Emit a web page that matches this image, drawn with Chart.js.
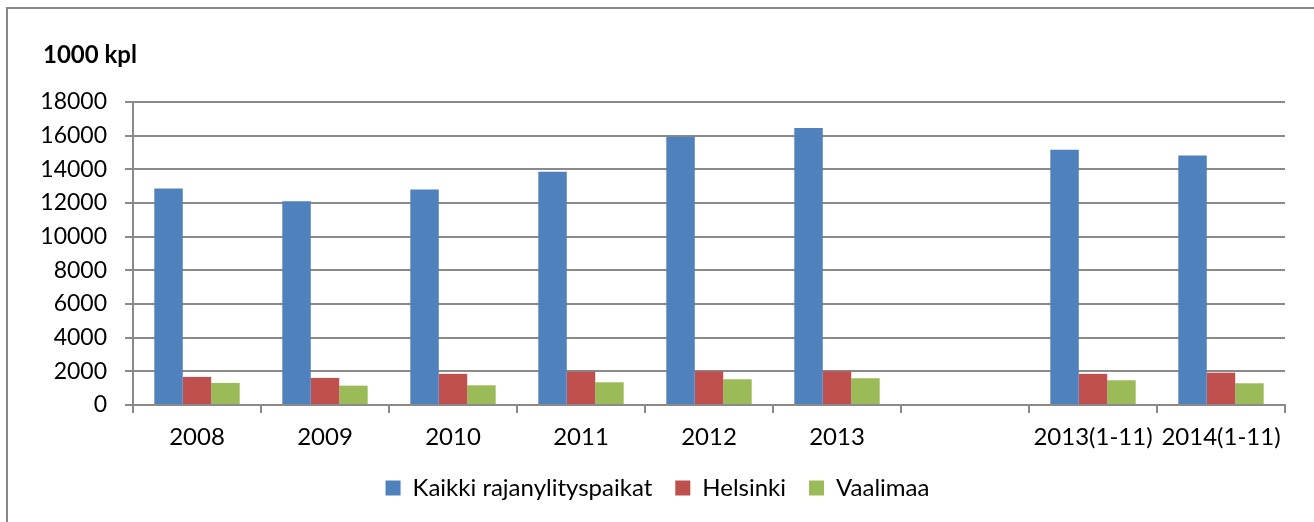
<!DOCTYPE html>
<html>
<head>
<meta charset="utf-8">
<script src="https://cdn.jsdelivr.net/npm/chart.js@4"></script>
<style>
  html, body { margin: 0; padding: 0; background: #fff; }
  #wrap { width: 1314px; height: 522px; }
</style>
</head>
<body>
<div id="wrap"><canvas id="crossingsChart" width="1314" height="522"></canvas></div>
<script>
const years = ["2008", "2009", "2010", "2011", "2012", "2013", "", "2013(1-11)", "2014(1-11)"];
const kaikki = [12860, 12100, 12800, 13850, 15930, 16450, null, 15160, 14820];
const helsinki = [1670, 1610, 1850, 1980, 2000, 2000, null, 1850, 1920];
const vaalimaa = [1310, 1150, 1170, 1350, 1530, 1590, null, 1470, 1290];
const unitLabel = "1000 kpl";

const gridGray = "#8a8a8a";
const font = "Lato, 'Open Sans', sans-serif";

// outer frame (only top & left edge visible) and the unit label
const framePlugin = {
  id: "frame",
  beforeDraw(chart) {
    const c = chart.ctx;
    c.save();
    c.fillStyle = "#fff";
    c.fillRect(0, 0, chart.width, chart.height);
    c.strokeStyle = "#888";
    c.lineWidth = 2;
    c.beginPath();
    c.moveTo(7, chart.height);
    c.lineTo(7, 8);
    c.lineTo(chart.width, 8);
    c.stroke();
    c.fillStyle = "#000";
    c.font = "bold 24px " + font;
    c.textBaseline = "alphabetic";
    c.fillText(unitLabel, 43, 63);
    c.restore();
  },
};

const ctx = document.getElementById("crossingsChart").getContext("2d");
const crossingsChart = new Chart(ctx, {
  type: "bar",
  data: {
    labels: years,
    datasets: [
      { label: "Kaikki rajanylityspaikat", data: kaikki, backgroundColor: "#4F81BD" },
      { label: "Helsinki", data: helsinki, backgroundColor: "#C0504D" },
      { label: "Vaalimaa", data: vaalimaa, backgroundColor: "#9BBB59" },
    ],
  },
  options: {
    responsive: false,
    animation: false,
    categoryPercentage: 0.667,
    barPercentage: 1,
    layout: { padding: { left: 30, right: 29, top: 102, bottom: 12 } },
    plugins: {
      title: { display: false },
      legend: {
        position: "bottom",
        labels: {
          color: "#000",
          font: { family: font, size: 24 },
          boxWidth: 15,
          boxHeight: 15,
          padding: 23,
        },
      },
      tooltip: { enabled: false },
    },
    scales: {
      x: {
        offset: true,
        afterFit(scale) { scale.height = 48; },
        grid: {
          offset: true,
          drawOnChartArea: false,
          color: gridGray,
          lineWidth: 2,
          tickLength: 8,
        },
        border: { color: gridGray, width: 2 },
        ticks: {
          color: "#000",
          font: { family: font, size: 24 },
          padding: 10,
          maxRotation: 0,
          autoSkip: false,
        },
      },
      y: {
        min: 0,
        max: 18000,
        afterFit(scale) { scale.width = 103; },
        grid: { color: gridGray, lineWidth: 2, tickLength: 8 },
        border: { color: gridGray, width: 2 },
        ticks: {
          stepSize: 2000,
          color: "#000",
          font: { family: font, size: 23 },
          padding: 18,
          callback: (v) => String(v),
        },
      },
    },
  },
  plugins: [framePlugin],
});
</script>
</body>
</html>
